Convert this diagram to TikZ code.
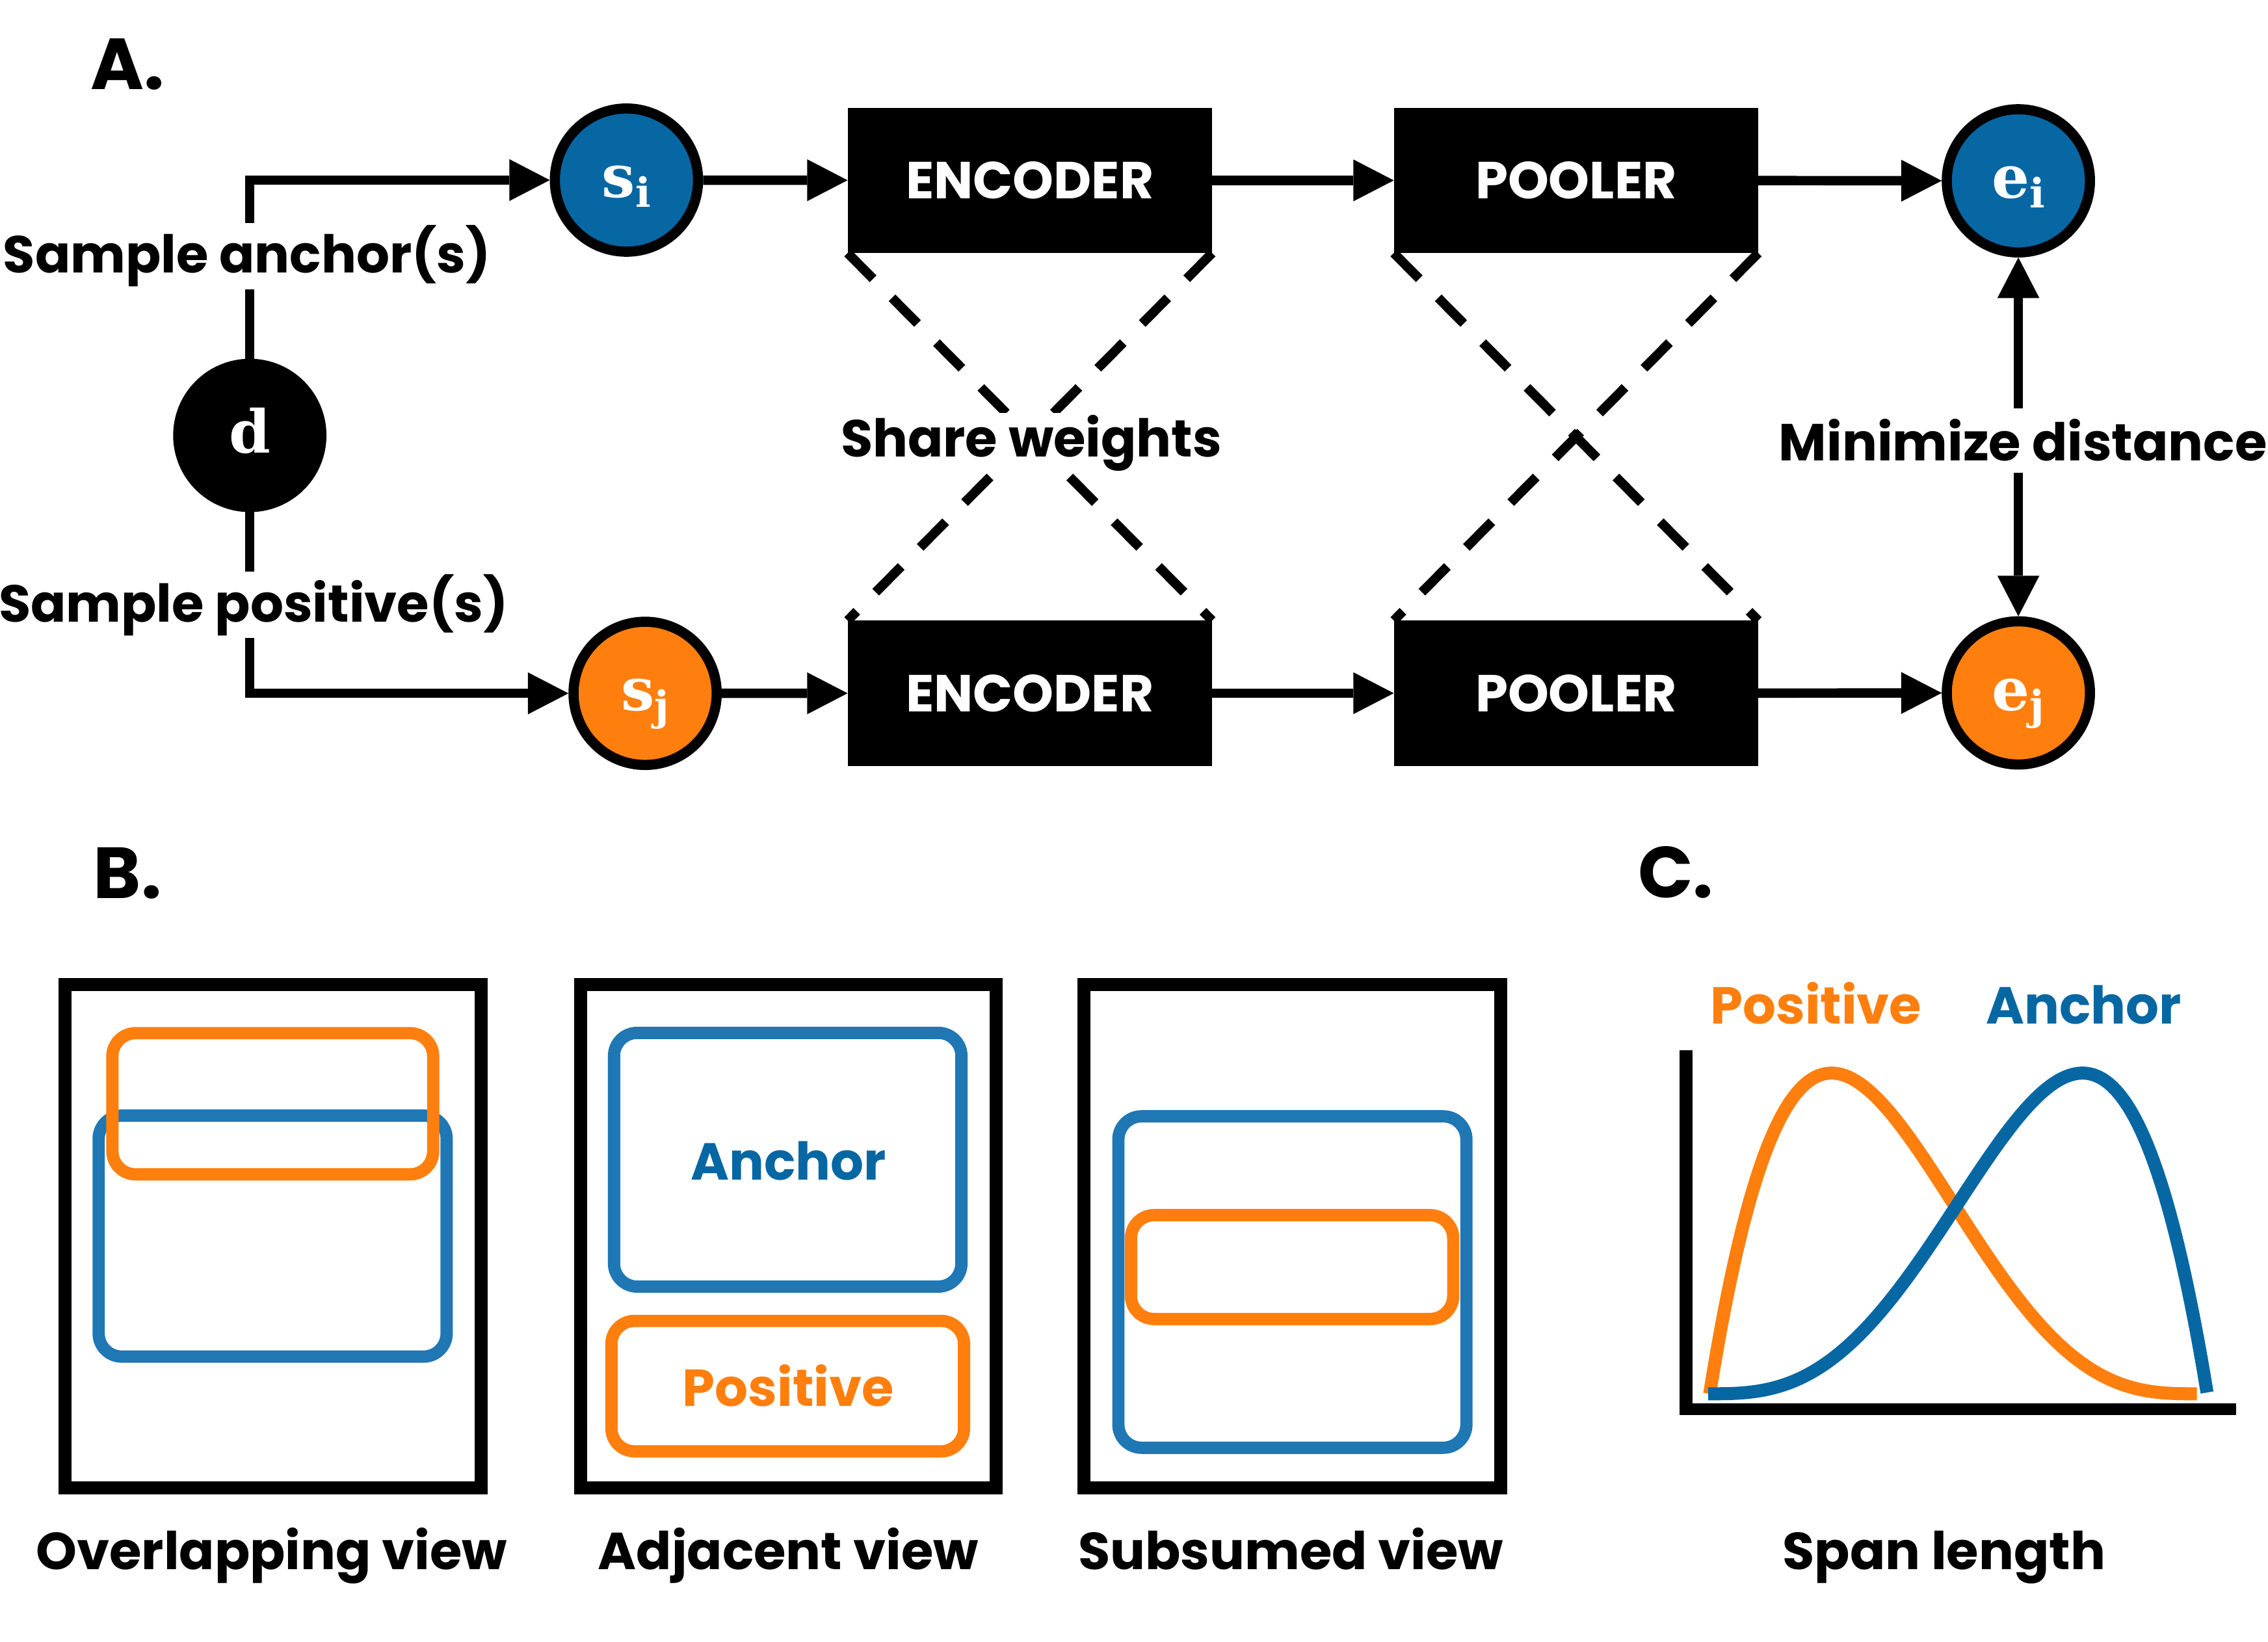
\documentclass[tikz,border=0pt]{standalone}
\usepackage{fontspec}
\setmainfont{Poppins}
\newfontfamily\serb{DejaVu Serif}
\usetikzlibrary{arrows.meta}
\definecolor{cblue}{HTML}{0767A3}
\definecolor{lblue}{HTML}{1F77B4}
\definecolor{corange}{HTML}{FF7F0E}
\tikzset{
 conn/.style={line width=6.5pt, -{Triangle[length=28pt,width=29pt,line width=0pt]}},
 plainline/.style={line width=6.5pt},
 circ/.style={circle, draw=black, line width=7pt, minimum size=99pt, inner sep=0pt, text=white,
   font=\serb\bfseries\fontsize{41}{41}\selectfont, text height=24pt, text depth=0pt},
 blk/.style={fill=black, minimum width=252pt, minimum height=100.5pt, inner sep=0pt, outer sep=0pt,
   text=white, font=\bfseries\fontsize{36}{36}\selectfont},
 lbl/.style={font=\bfseries\fontsize{36}{36}\selectfont, inner xsep=2pt, inner ysep=1.5pt},
 panel/.style={font=\bfseries\fontsize{50}{50}\selectfont, anchor=base, inner sep=0pt},
 frame/.style={draw=black, line width=9pt},
 brect/.style={draw=lblue, line width=8.5pt, rounded corners=16pt},
 orect/.style={draw=corange, line width=8.5pt, rounded corners=16pt},
 caplbl/.style={font=\bfseries\fontsize{36}{36}\selectfont, anchor=base, inner sep=0pt},
 xdash/.style={line width=6.5pt, dash pattern=on 25pt off 18.6pt},
}
\newcommand{\subi}[2]{#1\raisebox{-6.5pt}{\fontsize{28}{28}\selectfont #2}}
\begin{document}
\begin{tikzpicture}[x=1pt,y=-1pt]
\useasboundingbox[fill=white] (0,0) rectangle (1568,1135);

% ---------- Panel A ----------
\node[panel] (lA) at (88,61.6) {A.};

\node[circ, fill=black, text height=23.8pt] (d) at (172.7,301) {d};
\node[circ, fill=cblue] (si) at (433.1,124.5) {\subi{s}{i}};
\node[circ, fill=corange] (sj) at (446,479.3) {\subi{s}{j}};
\node[circ, fill=cblue] (ei) at (1395.4,125) {\subi{e}{i}};
\node[circ, fill=corange] (ej) at (1395.4,479) {\subi{e}{j}};

\node[blk] (e1) at (712,124.7) {ENCODER};
\node[blk] (p1) at (1089.6,124.7) {POOLER};
\node[blk] (e2) at (712,479.2) {ENCODER};
\node[blk] (p2) at (1089.6,479.2) {POOLER};

\node[lbl] (sa) at (170.7,177) {Sample anchor(s)};
\node[lbl] (sp) at (175.2,418.2) {Sample positive(s)};
\node[lbl, inner ysep=7.5pt] (md) at (1398.6,304.4) {Minimize distance};

\draw[plainline] (d) -- (d |- sa.south);
\draw[conn] (d |- sa.north) |- (si);
\draw[plainline] (d) -- (d |- sp.north);
\draw[conn] (d |- sp.south) |- (sj);

\draw[conn] (si) -- (e1);
\draw[conn] (e1) -- (p1);
\draw[conn] (p1) -- (ei);
\draw[conn] (sj) -- (e2);
\draw[conn] (e2) -- (p2);
\draw[conn] (p2) -- (ej);

\draw[conn] (ei |- md.north) -- (ei);
\draw[conn] (ej |- md.south) -- (ej);

\draw[xdash] (e1.south west) -- (e2.north east);
\draw[xdash] (e1.south east) -- (e2.north west);
\draw[xdash] (p1.south west) -- (p2.north east);
\draw[xdash] (p1.south east) -- (p2.north west);

\node[lbl, fill=white] (sw) at (713,306.4) {Share weights};

% ---------- Panel B ----------
\node[panel] (lB) at (88.2,621) {B.};

\draw[frame] (44.9,680.5) rectangle (332.5,1028.5);
\draw[brect] (68.2,771.2) rectangle (308.8,937.8);
\draw[orect] (77.7,714.2) rectangle (299.5,811.8);

\draw[frame] (401.5,680.5) rectangle (688.5,1028.5);
\draw[brect] (424.5,714) rectangle (664.7,889.4);
\draw[orect] (422.7,913.1) rectangle (666.5,1003.3);
\node[caplbl, text=cblue] (tA) at (545,815.8) {Anchor};
\node[caplbl, text=corange] (tP) at (545,972) {Positive};

\draw[frame] (749.5,680.5) rectangle (1037.5,1028.5);
\draw[brect] (773.2,771.7) rectangle (1013.8,1000.8);
\draw[orect] (781.9,840) rectangle (1004.7,911.8);

\node[caplbl] (ov) at (187.8,1085) {Overlapping view};
\node[caplbl] (av) at (545,1085) {Adjacent view};
\node[caplbl] (sv) at (892.4,1085) {Subsumed view};

% ---------- Panel C ----------
\node[panel] (lC) at (1158.5,620.5) {C.};
\node[caplbl, text=corange] (cP) at (1255.5,708) {Positive};
\node[caplbl, text=cblue] (cA) at (1440.5,708) {Anchor};

\draw[line width=9pt] (1165.5,726) -- (1165.5,978);
\draw[line width=8pt] (1161,974) -- (1546,974);

\draw[line width=9pt, corange, line join=round] plot[domain=0:1, samples=160]
  ({1182+337*\x}, {963.5-221.7*\x*(1-\x)*(1-\x)*(1-\x)/0.10546875});
\draw[line width=9pt, cblue, line join=round] plot[domain=0:1, samples=160]
  ({1181+345*\x}, {963.5-221.7*\x*\x*\x*(1-\x)/0.10546875});

\node[caplbl] (sl) at (1344,1085) {Span length};
\end{tikzpicture}
\end{document}
